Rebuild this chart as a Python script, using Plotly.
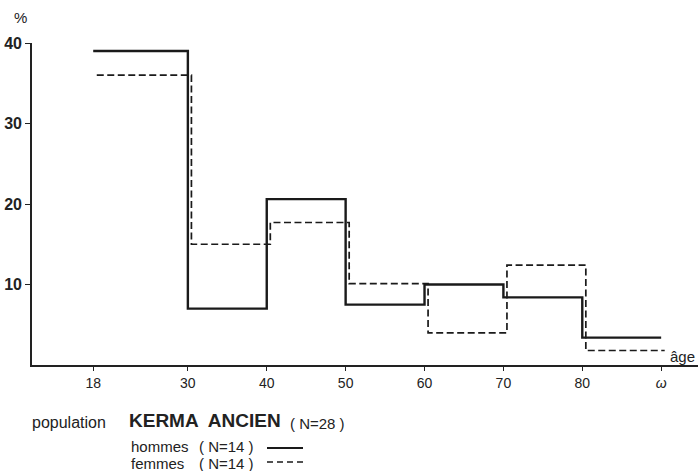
import plotly.graph_objects as go

# age class edges (ω = 90 as the open upper bound)
edges = [18, 30, 40, 50, 60, 70, 80, 90]
tick_labels = ["18", "30", "40", "50", "60", "70", "80", "<i>ω</i>"]
hommes = [39.0, 7.0, 20.6, 7.5, 10.0, 8.4, 3.4]
femmes = [36.0, 15.0, 17.7, 10.1, 4.0, 12.4, 1.8]
y_ticks = [10, 20, 30, 40]

W, H = 698, 471
L, R, T, B = 32, 0, 43, 106
PW, PH = W - L - R, H - T - B

def px(x):
    return (x - L) / PW

def py(y):
    return (H - B - y) / PH

def step(vals):
    return edges[:], vals + [vals[-1]]

fig = go.Figure()
xs, ys = step(hommes)
fig.add_trace(go.Scatter(x=xs, y=ys, mode="lines", line_shape="hv",
                         line=dict(color="#1a1a1a", width=2.4), xaxis="x", yaxis="y",
                         showlegend=False, hoverinfo="skip"))
xs, ys = step(femmes)
fig.add_trace(go.Scatter(x=xs, y=ys, mode="lines", line_shape="hv",
                         line=dict(color="#1a1a1a", width=1.7, dash="7px,3.5px"),
                         xaxis="x2", yaxis="y", showlegend=False, hoverinfo="skip"))

font = "Liberation Sans, Arial, sans-serif"
xr = [10.24, 94.67]
fig.update_layout(
    width=W, height=H,
    margin=dict(l=L, r=R, t=T, b=B),
    paper_bgcolor="white", plot_bgcolor="white",
    xaxis=dict(range=xr, tickmode="array", tickvals=edges, ticktext=tick_labels,
               showgrid=False, zeroline=False, showline=True, linecolor="#222",
               linewidth=1.6, ticks="outside", ticklen=4, tickwidth=1.3, tickcolor="#222",
               tickfont=dict(family=font, size=14, color="#222")),
    xaxis2=dict(range=[xr[0] - 0.45, xr[1] - 0.45], overlaying="x", visible=False),
    yaxis=dict(range=[0, 40], tickmode="array", tickvals=y_ticks,
               showgrid=False, zeroline=False, showline=True, linecolor="#222",
               linewidth=1.6, ticks="outside", ticklen=5, tickwidth=1.3, tickcolor="#222",
               tickfont=dict(family=font, size=16, color="#222", weight="bold")),
    font=dict(family=font, color="#222"),
)

ann = [
    dict(x=12, y=18, text="%", size=15, xanchor="left"),
    dict(x=697, y=356, text="âge", size=15, xanchor="right"),
    dict(x=30, y=422, text="population", size=16, xanchor="left"),
    dict(x=127, y=421, text="<b>KERMA  ANCIEN</b>", size=19, xanchor="left"),
    dict(x=288, y=423, text="( N=28 )", size=15, xanchor="left"),
    dict(x=129, y=446, text="hommes", size=15, xanchor="left"),
    dict(x=197, y=446, text="( N=14 )", size=15, xanchor="left"),
    dict(x=129, y=463, text="femmes", size=15, xanchor="left"),
    dict(x=197, y=463, text="( N=14 )", size=15, xanchor="left"),
]
for a in ann:
    fig.add_annotation(x=px(a["x"]), y=py(a["y"]), xref="paper", yref="paper", text=a["text"],
                       showarrow=False, xanchor=a["xanchor"], yanchor="middle",
                       font=dict(family=font, size=a["size"], color="#222"))

fig.add_shape(type="line", xref="paper", yref="paper", x0=px(267), x1=px(303),
              y0=py(448), y1=py(448), line=dict(color="#1a1a1a", width=2))
fig.add_shape(type="line", xref="paper", yref="paper", x0=px(267), x1=px(303),
              y0=py(462), y1=py(462), line=dict(color="#1a1a1a", width=1.6, dash="6px,4px"))

fig.write_html("out.html", config={"displayModeBar": False},
               post_script="document.body.style.margin='0';")
